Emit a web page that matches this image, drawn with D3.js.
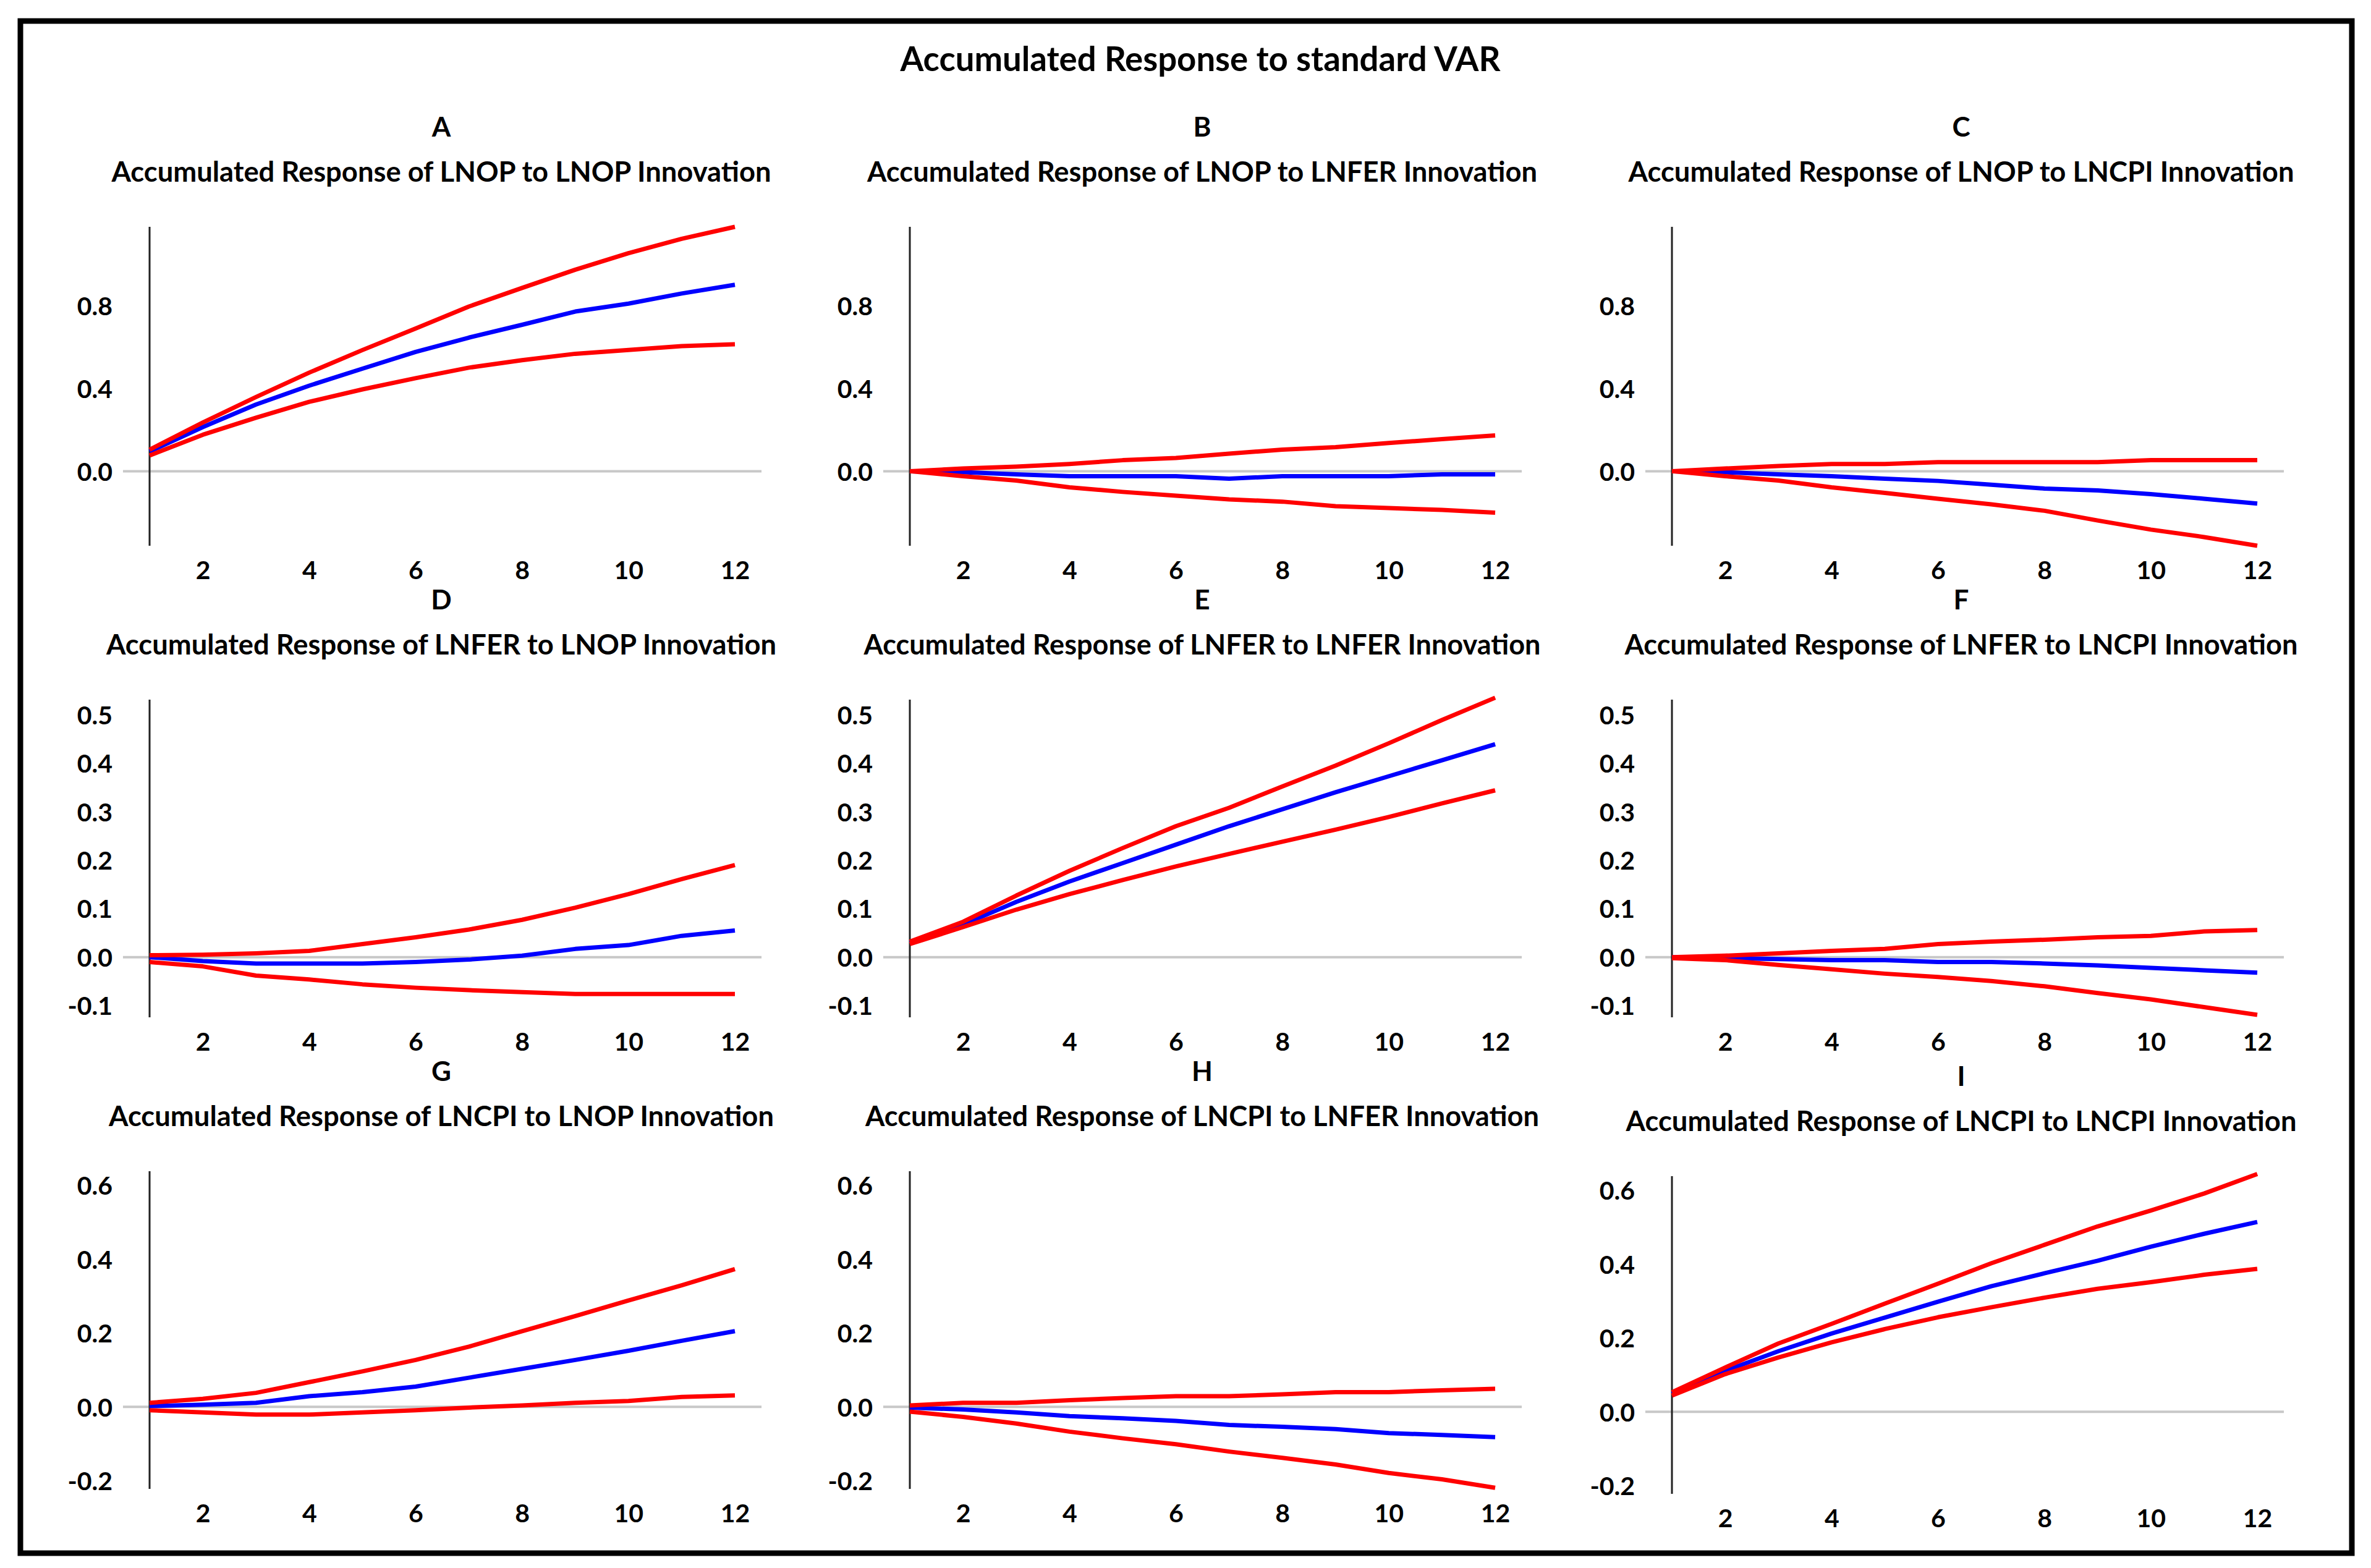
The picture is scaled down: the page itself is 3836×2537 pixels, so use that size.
<!DOCTYPE html>
<html>
<head>
<meta charset="utf-8">
<script src="https://cdn.jsdelivr.net/npm/d3@7"></script>
<style>
  html, body { margin: 0; padding: 0; background: #fff; }
  svg { display: block; }
  text { font-family: Lato, "Open Sans", sans-serif; font-weight: bold; fill: #000; }
</style>
</head>
<body>
<svg id="chart"></svg>
<script>
// ---- data ----
const periods = [1, 2, 3, 4, 5, 6, 7, 8, 9, 10, 11, 12];
const mainTitle = 'Accumulated Response to standard VAR';
const letters = ['A', 'B', 'C', 'D', 'E', 'F', 'G', 'H', 'I'];
const titles = [
  'Accumulated Response of LNOP to LNOP Innovation',
  'Accumulated Response of LNOP to LNFER Innovation',
  'Accumulated Response of LNOP to LNCPI Innovation',
  'Accumulated Response of LNFER to LNOP Innovation',
  'Accumulated Response of LNFER to LNFER Innovation',
  'Accumulated Response of LNFER to LNCPI Innovation',
  'Accumulated Response of LNCPI to LNOP Innovation',
  'Accumulated Response of LNCPI to LNFER Innovation',
  'Accumulated Response of LNCPI to LNCPI Innovation'
];
const xTicks = [2, 4, 6, 8, 10, 12];
const yTicksRow1 = [0.0, 0.4, 0.8];
const yTicksRow2 = [-0.1, 0.0, 0.1, 0.2, 0.3, 0.4, 0.5];
const yTicksRow3 = [-0.2, 0.0, 0.2, 0.4, 0.6];
const yDomainRow1 = [-0.36, 1.18];
const yDomainRow2 = [-0.124, 0.531];
const yDomainRow3 = [-0.222, 0.638];

// A: LNOP <- LNOP
const respA  = [0.095, 0.213, 0.322, 0.413, 0.495, 0.576, 0.645, 0.707, 0.771, 0.809, 0.858, 0.900];
const upperA = [0.104, 0.235, 0.358, 0.476, 0.585, 0.689, 0.795, 0.885, 0.973, 1.053, 1.122, 1.180];
const lowerA = [0.076, 0.176, 0.258, 0.335, 0.395, 0.449, 0.500, 0.536, 0.567, 0.585, 0.604, 0.613];
// B: LNOP <- LNFER
const respB  = [0.000, -0.005, -0.015, -0.024, -0.024, -0.024, -0.036, -0.024, -0.024, -0.024, -0.015, -0.015];
const upperB = [0.000, 0.013, 0.022, 0.035, 0.053, 0.064, 0.085, 0.104, 0.116, 0.136, 0.155, 0.173];
const lowerB = [0.000, -0.024, -0.045, -0.078, -0.100, -0.118, -0.136, -0.147, -0.169, -0.178, -0.187, -0.200];
// C: LNOP <- LNCPI
const respC  = [0.000, -0.005, -0.015, -0.024, -0.036, -0.047, -0.065, -0.084, -0.093, -0.111, -0.133, -0.156];
const upperC = [0.000, 0.013, 0.025, 0.035, 0.035, 0.044, 0.044, 0.044, 0.044, 0.053, 0.053, 0.053];
const lowerC = [0.000, -0.024, -0.045, -0.078, -0.105, -0.133, -0.160, -0.191, -0.238, -0.282, -0.318, -0.360];
// D: LNFER <- LNOP
const respD  = [0.000, -0.008, -0.013, -0.013, -0.013, -0.010, -0.005, 0.003, 0.017, 0.025, 0.044, 0.055];
const upperD = [0.004, 0.005, 0.008, 0.013, 0.027, 0.041, 0.057, 0.077, 0.102, 0.130, 0.161, 0.190];
const lowerD = [-0.010, -0.019, -0.038, -0.046, -0.056, -0.063, -0.068, -0.072, -0.076, -0.076, -0.076, -0.076];
// E: LNFER <- LNFER
const respE  = [0.030, 0.067, 0.114, 0.156, 0.194, 0.232, 0.270, 0.305, 0.340, 0.373, 0.406, 0.439];
const upperE = [0.032, 0.073, 0.127, 0.178, 0.225, 0.270, 0.308, 0.352, 0.395, 0.441, 0.489, 0.535];
const lowerE = [0.027, 0.062, 0.098, 0.130, 0.159, 0.187, 0.213, 0.238, 0.263, 0.289, 0.317, 0.344];
// F: LNFER <- LNCPI
const respF  = [0.000, -0.002, -0.004, -0.006, -0.006, -0.010, -0.010, -0.013, -0.017, -0.022, -0.027, -0.032];
const upperF = [0.000, 0.003, 0.008, 0.013, 0.017, 0.027, 0.032, 0.036, 0.041, 0.044, 0.053, 0.056];
const lowerF = [-0.002, -0.006, -0.016, -0.025, -0.034, -0.041, -0.049, -0.060, -0.074, -0.087, -0.103, -0.119];
// G: LNCPI <- LNOP
const respG  = [0.002, 0.006, 0.011, 0.029, 0.040, 0.055, 0.079, 0.103, 0.127, 0.152, 0.179, 0.205];
const upperG = [0.011, 0.022, 0.038, 0.067, 0.096, 0.127, 0.163, 0.205, 0.246, 0.288, 0.329, 0.373];
const lowerG = [-0.009, -0.015, -0.021, -0.021, -0.015, -0.009, -0.002, 0.004, 0.011, 0.016, 0.027, 0.031];
// H: LNCPI <- LNFER
const respH  = [-0.002, -0.007, -0.015, -0.025, -0.031, -0.038, -0.049, -0.054, -0.060, -0.071, -0.076, -0.082];
const upperH = [0.004, 0.011, 0.011, 0.018, 0.024, 0.029, 0.029, 0.034, 0.040, 0.040, 0.045, 0.049];
const lowerH = [-0.013, -0.027, -0.045, -0.067, -0.085, -0.101, -0.121, -0.138, -0.156, -0.179, -0.196, -0.219];
// I: LNCPI <- LNCPI
const respI  = [0.049, 0.111, 0.164, 0.212, 0.255, 0.298, 0.340, 0.375, 0.409, 0.447, 0.482, 0.514];
const upperI = [0.053, 0.120, 0.185, 0.238, 0.293, 0.347, 0.402, 0.452, 0.502, 0.545, 0.591, 0.644];
const lowerI = [0.044, 0.102, 0.147, 0.188, 0.224, 0.256, 0.283, 0.309, 0.333, 0.351, 0.371, 0.387];

const responses = [respA, respB, respC, respD, respE, respF, respG, respH, respI];
const uppers = [upperA, upperB, upperC, upperD, upperE, upperF, upperG, upperH, upperI];
const lowers = [lowerA, lowerB, lowerC, lowerD, lowerE, lowerF, lowerG, lowerH, lowerI];

// ---- layout ----
const W = 3836, H = 2537;
const colX = [242, 1472, 2705];       // pixel of period 1 (the y axis)
const plotW = 947;                     // period 1 .. period 12
// plain hyphen for negatives, like the original
const fmt = d3.formatLocale({ decimal: '.', thousands: ',', grouping: [3], currency: ['', ''], minus: '-' }).format('.1f');
const rows = [
  { top: 367, bottom: 883, domain: yDomainRow1, ticks: yTicksRow1 },
  { top: 1132, bottom: 1646, domain: yDomainRow2, ticks: yTicksRow2 },
  { top: 1895, bottom: 2409, domain: yDomainRow3, ticks: yTicksRow3 }
];
const panelShift = [0, 0, 0, 0, 0, 0, 0, 0, 8]; // panel I sits a little lower
const titleWidths = [1067, 1084, 1077, 1084, 1095, 1089, 1076, 1090, 1085];
const colCenters = [714, 1945, 3173];

const svg = d3.select('#chart').attr('width', W).attr('height', H);

svg.append('rect').attr('width', W).attr('height', H).attr('fill', '#fff');

// outer frame
svg.append('rect')
  .attr('x', 33).attr('y', 34)
  .attr('width', 3772).attr('height', 2479)
  .attr('fill', 'none').attr('stroke', '#000').attr('stroke-width', 9);

svg.append('text')
  .attr('x', 1942).attr('y', 115)
  .attr('text-anchor', 'middle')
  .attr('font-size', 55)
  .attr('textLength', 971).attr('lengthAdjust', 'spacingAndGlyphs')
  .text(mainTitle);

letters.forEach((letter, i) => {
  const row = rows[Math.floor(i / 3)];
  const col = i % 3;
  const dy = panelShift[i];
  const x0 = colX[col];

  const x = d3.scaleLinear().domain([1, 12]).range([x0, x0 + plotW]);
  const y = d3.scaleLinear().domain(row.domain).range([row.bottom + dy, row.top + dy]);

  const g = svg.append('g');

  // panel letter and title
  g.append('text')
    .attr('x', colCenters[col]).attr('y', row.top + dy - 146)
    .attr('text-anchor', 'middle').attr('font-size', 44)
    .text(letter);
  g.append('text')
    .attr('x', colCenters[col]).attr('y', row.top + dy - 73)
    .attr('text-anchor', 'middle').attr('font-size', 45)
    .attr('textLength', titleWidths[i]).attr('lengthAdjust', 'spacingAndGlyphs')
    .text(titles[i]);

  // zero line
  g.append('line')
    .attr('x1', x(0.5)).attr('x2', x(12.5))
    .attr('y1', y(0)).attr('y2', y(0))
    .attr('stroke', '#c8c8c8').attr('stroke-width', 4);

  // y axis (line at period 1, labels to the left)
  const yAxis = d3.axisLeft(y).tickValues(row.ticks).tickFormat(fmt).tickSize(0).tickPadding(60);
  const ya = g.append('g').attr('transform', `translate(${x0},0)`).call(yAxis);
  ya.select('.domain').remove();
  ya.selectAll('text').attr('font-size', 41).attr('font-family', null).attr('dy', '0.36em');
  g.append('line')
    .attr('x1', x0).attr('x2', x0)
    .attr('y1', y(row.domain[1])).attr('y2', y(row.domain[0]))
    .attr('stroke', '#222').attr('stroke-width', 3);

  // x axis labels only
  const xAxis = d3.axisBottom(x).tickValues(xTicks).tickSize(0).tickPadding(0);
  const xa = g.append('g').attr('transform', `translate(0,${row.bottom + dy + 54})`).call(xAxis);
  xa.select('.domain').remove();
  xa.selectAll('text').attr('font-size', 41).attr('font-family', null).attr('dy', 0);

  const line = d3.line().x((d, k) => x(periods[k])).y(d => y(d));

  g.append('path').datum(responses[i])
    .attr('d', line).attr('fill', 'none')
    .attr('stroke', '#0000ff').attr('stroke-width', 7).attr('stroke-linejoin', 'round');
  [uppers[i], lowers[i]].forEach(band => {
    g.append('path').datum(band)
      .attr('d', line).attr('fill', 'none')
      .attr('stroke', '#ff0000').attr('stroke-width', 7).attr('stroke-linejoin', 'round');
  });
});
</script>
</body>
</html>
